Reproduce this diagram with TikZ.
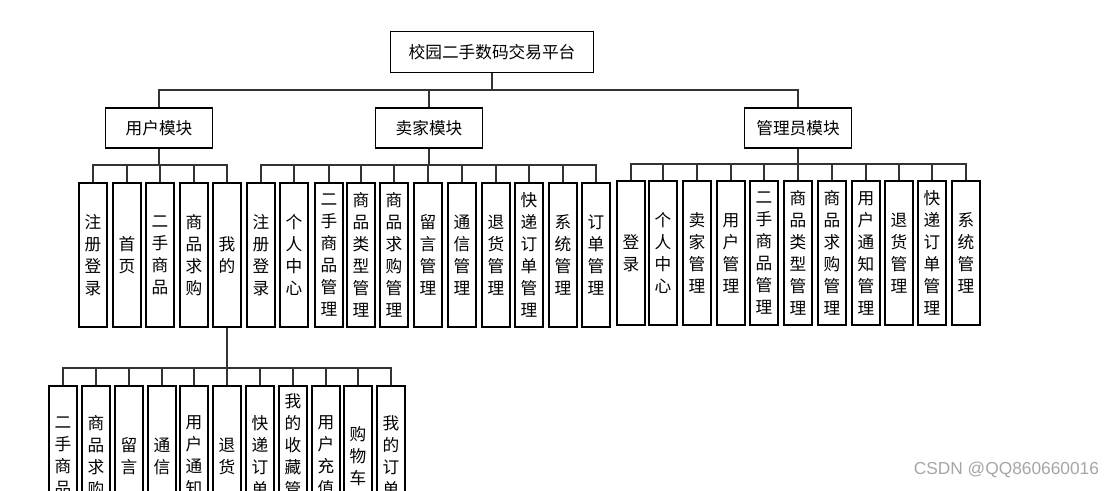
\documentclass[tikz,border=0pt]{standalone}
\usepackage{fontspec}
\newfontfamily\cjk{Noto Sans CJK SC}
\begin{document}
\begin{tikzpicture}[x=0.75pt,y=-0.75pt,line width=0.8pt,
  hbox/.style={draw,font=\cjk\fontsize{12.5}{14}\selectfont,inner sep=0pt},
  vbox/.style={draw,font=\cjk\fontsize{12.5}{16.5}\selectfont,minimum width=21pt,align=center,inner sep=0pt},
  wire/.style={draw=black!80}]
\useasboundingbox (0,0) rectangle (1106,490);
\node[hbox,minimum width=152pt,minimum height=31pt] (root) at (492,52) {校园二手数码交易平台};
\node[hbox,minimum width=80pt,minimum height=30pt] (u) at (159,128) {用户模块};
\node[hbox,minimum width=80pt,minimum height=30pt] (s) at (429,128) {卖家模块};
\node[hbox,minimum width=80pt,minimum height=30pt] (a) at (798,128) {管理员模块};
\draw[wire] (root.south) -- (492,90);
\draw[wire] (u.north) |- (492,90) -| (a.north);
\draw[wire] (s.north) -- (429,90);
% user children
\foreach \x/\t [count=\i] in {93/注\\册\\登\\录,127/首\\页,160/二\\手\\商\\品,194/商\\品\\求\\购,227/我\\的}{
  \node[vbox,minimum height=108pt] (u\i) at (\x,255) {\t};
  \draw[wire] (u\i.north) -- (\x,165) -| (u.south);}
% seller children
\foreach \x/\t [count=\i] in {261/注\\册\\登\\录,294/个\\人\\中\\心,329/二\\手\\商\\品\\管\\理,361/商\\品\\类\\型\\管\\理,394/商\\品\\求\\购\\管\\理,428/留\\言\\管\\理,462/通\\信\\管\\理,496/退\\货\\管\\理,529/快\\递\\订\\单\\管\\理,563/系\\统\\管\\理,596/订\\单\\管\\理}{
  \node[vbox,minimum height=108pt] (s\i) at (\x,255) {\t};
  \draw[wire] (s\i.north) -- (\x,165) -| (s.south);}
% admin children
\foreach \x/\t [count=\i] in {631/登\\录,663/个\\人\\中\\心,697/卖\\家\\管\\理,731/用\\户\\管\\理,764/二\\手\\商\\品\\管\\理,798/商\\品\\类\\型\\管\\理,832/商\\品\\求\\购\\管\\理,866/用\\户\\通\\知\\管\\理,899/退\\货\\管\\理,932/快\\递\\订\\单\\管\\理,966/系\\统\\管\\理}{
  \node[vbox,minimum height=108pt] (a\i) at (\x,253) {\t};
  \draw[wire] (a\i.north) -- (\x,164) -| (a.south);}
% my children
\foreach \x/\t [count=\i] in {63/二\\手\\商\\品,96/商\\品\\求\\购,129/留\\言,162/通\\信,194/用\\户\\通\\知,227/退\\货,260/快\\递\\订\\单,293/我\\的\\收\\藏\\管\\理,326/用\\户\\充\\值,358/购\\物\\车,391/我\\的\\订\\单}{
  \node[vbox,minimum height=105pt] (m\i) at (\x,456) {\t};
  \draw[wire] (m\i.north) -- (\x,368) -| (u5.south);}
\node[font=\fontspec{Liberation Sans}\fontsize{13}{15}\selectfont,text=black!35,anchor=east] (wm) at (1104,470) {CSDN @QQ860660016};
\end{tikzpicture}
\end{document}
